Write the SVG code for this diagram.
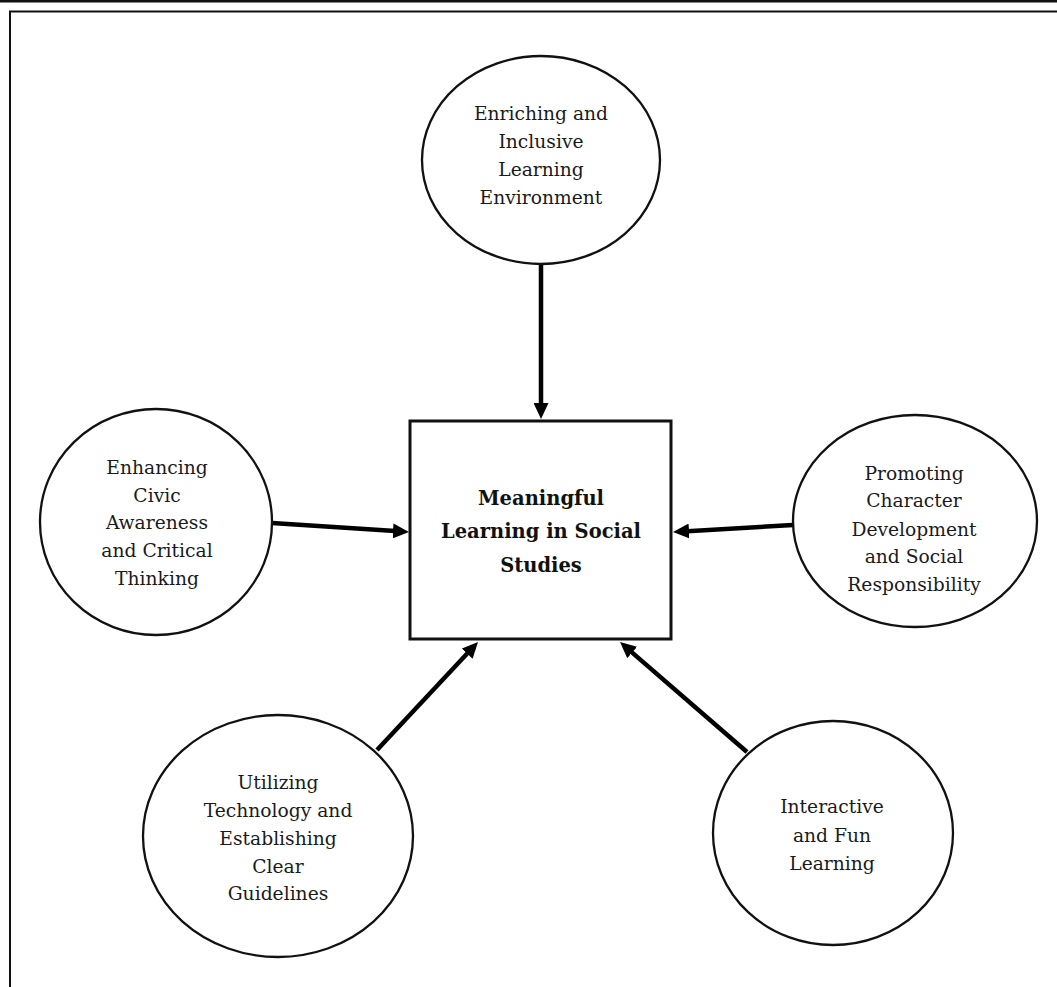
<svg xmlns="http://www.w3.org/2000/svg" width="1057" height="987" viewBox="0 0 1057 987">
<defs>
<style>
.node{fill:#fff;stroke:#111;stroke-width:2.3}
.box{fill:#fff;stroke:#111;stroke-width:3}
.lbl{font-family:"DejaVu Serif","Liberation Serif",serif;font-size:18.7px;fill:#1a1a1a;text-anchor:middle}
.title{font-family:"DejaVu Serif","Liberation Serif",serif;font-size:19.5px;font-weight:bold;fill:#111;text-anchor:middle}
.conn{stroke:#000;stroke-width:4.5;fill:none;marker-end:url(#ah)}
.frame{stroke:#111;fill:none}
</style>
<marker id="ah" markerUnits="userSpaceOnUse" markerWidth="16" markerHeight="15" refX="6" refY="7.5" orient="auto">
<path d="M0,0 L16,7.5 L0,15 z" fill="#000"/>
</marker>
</defs>
<rect width="1057" height="987" fill="#fff"/>
<g id="frame">
<line class="frame" x1="0" y1="1.2" x2="1057" y2="1.2" stroke-width="2.5"/>
<line class="frame" x1="9" y1="11.5" x2="1057" y2="11.5" stroke-width="2"/>
<line class="frame" x1="10" y1="11" x2="10" y2="987" stroke-width="2"/>
</g>
<g id="connectors">
<line class="conn" x1="541" y1="263" x2="541" y2="409"/>
<line class="conn" x1="272" y1="523" x2="399" y2="531.3"/>
<line class="conn" x1="793" y1="525" x2="683" y2="531.4"/>
<line class="conn" x1="377" y1="750" x2="471.2" y2="649.3"/>
<line class="conn" x1="747" y1="752" x2="627.6" y2="648.6"/>
</g>
<g id="center">
<rect class="box" x="410" y="421" width="261" height="218"/>
<text class="title" x="541" y="505">Meaningful</text>
<text class="title" x="541" y="538">Learning in Social</text>
<text class="title" x="541" y="572">Studies</text>
</g>
<g id="top">
<ellipse class="node" cx="541" cy="160" rx="119" ry="104"/>
<text class="lbl" x="541" y="120">Enriching and</text>
<text class="lbl" x="541" y="148">Inclusive</text>
<text class="lbl" x="541" y="176">Learning</text>
<text class="lbl" x="541" y="204">Environment</text>
</g>
<g id="left">
<ellipse class="node" cx="156" cy="522" rx="116" ry="113"/>
<text class="lbl" x="157" y="474">Enhancing</text>
<text class="lbl" x="157" y="502">Civic</text>
<text class="lbl" x="157" y="529">Awareness</text>
<text class="lbl" x="157" y="557">and Critical</text>
<text class="lbl" x="157" y="585">Thinking</text>
</g>
<g id="right">
<ellipse class="node" cx="915" cy="521" rx="122" ry="106"/>
<text class="lbl" x="914" y="480">Promoting</text>
<text class="lbl" x="914" y="507">Character</text>
<text class="lbl" x="914" y="536">Development</text>
<text class="lbl" x="914" y="563">and Social</text>
<text class="lbl" x="914" y="591">Responsibility</text>
</g>
<g id="bottom-left">
<ellipse class="node" cx="278" cy="836" rx="135" ry="121"/>
<text class="lbl" x="278" y="789">Utilizing</text>
<text class="lbl" x="278" y="817">Technology and</text>
<text class="lbl" x="278" y="845">Establishing</text>
<text class="lbl" x="278" y="873">Clear</text>
<text class="lbl" x="278" y="900">Guidelines</text>
</g>
<g id="bottom-right">
<ellipse class="node" cx="833" cy="833" rx="120" ry="112"/>
<text class="lbl" x="832" y="813">Interactive</text>
<text class="lbl" x="832" y="842">and Fun</text>
<text class="lbl" x="832" y="870">Learning</text>
</g>
</svg>
